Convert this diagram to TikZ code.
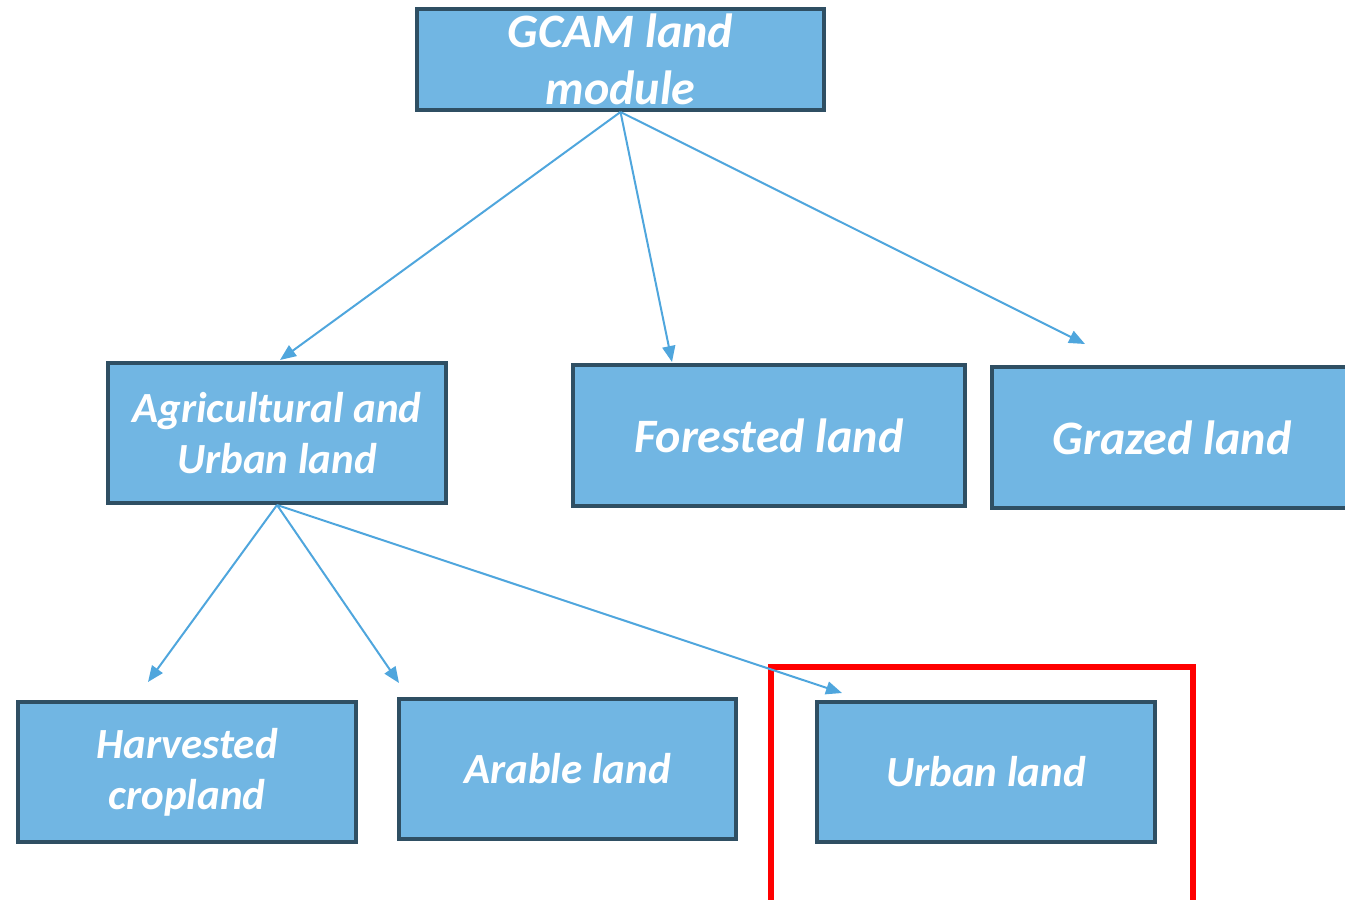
\documentclass[tikz,border=0pt]{standalone}
\usepackage{fontspec}
\setmainfont{Carlito}
\usetikzlibrary{arrows.meta}
\definecolor{boxfill}{HTML}{71B6E3}
\definecolor{boxline}{HTML}{2F4F63}
\definecolor{arrowc}{HTML}{4FA6DD}
\begin{document}
\begin{tikzpicture}[x=1pt,y=-1pt,
  box/.style={draw=boxline, fill=boxfill, line width=4pt, rectangle, inner sep=0pt,
    text=white, align=center, font=\fontsize{43}{51}\selectfont\bfseries\itshape},
  bigtext/.style={font=\fontsize{48}{57}\selectfont\bfseries\itshape},
  conn/.style={draw=arrowc, line width=2pt, -{Triangle[length=16pt,width=13pt]}}
]
\useasboundingbox (0,0) rectangle (1345,900);
\node[box, bigtext, minimum width=407pt, minimum height=101pt] (gcam) at (620.5,59.5) {GCAM land\\module};
\node[box, minimum width=338pt, minimum height=140pt] (agri) at (277,433) {Agricultural and\\Urban land};
\node[box, bigtext, minimum width=392pt, minimum height=141pt] (forest) at (769,435.5) {Forested land};
\node[box, bigtext, minimum width=360pt, minimum height=141pt] (graze) at (1172,437.5) {Grazed land};
\node[box, minimum width=338pt, minimum height=140pt] (harv) at (187,772) {Harvested\\cropland};
\node[box, minimum width=337pt, minimum height=140pt] (arable) at (567.5,769) {Arable land};
\node[box, minimum width=338pt, minimum height=140pt] (urban) at (986,772) {Urban land};
\draw[red, line width=6pt] (771,667) rectangle (1193,906);
\coordinate (e1) at (280,360);
\coordinate (e2) at (672,362);
\coordinate (e3) at (1085,344);
\coordinate (e4) at (148,682);
\coordinate (e5) at (399,683);
\coordinate (e6) at (842,693);
\draw[conn] (gcam.south) -- (e1);
\draw[conn] (gcam.south) -- (e2);
\draw[conn] (gcam.south) -- (e3);
\draw[conn] (agri.south) -- (e4);
\draw[conn] (agri.south) -- (e5);
\draw[conn] (agri.south) -- (e6);
\end{tikzpicture}
\end{document}
